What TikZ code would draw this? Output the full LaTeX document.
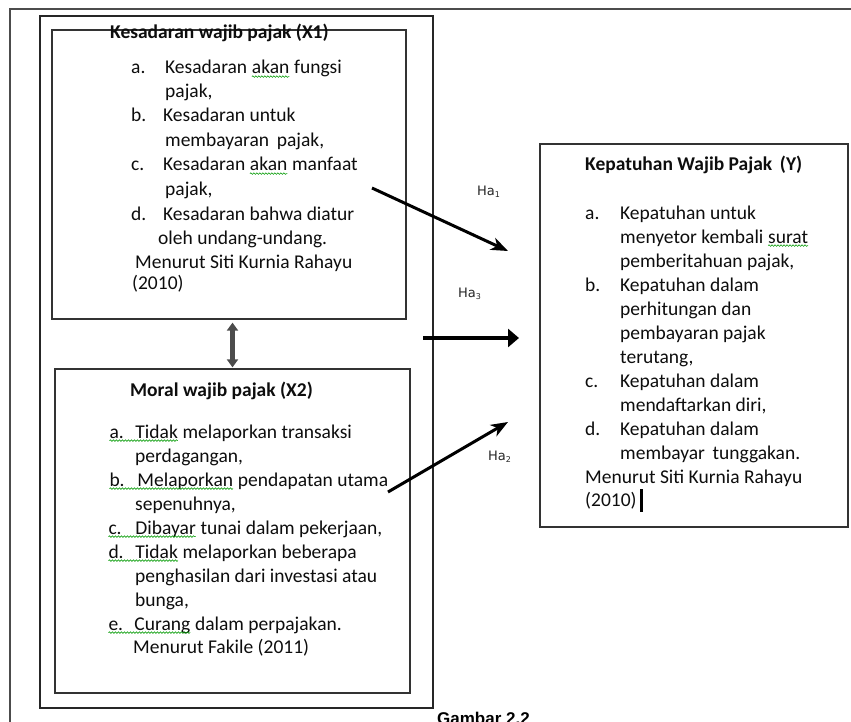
\documentclass[tikz,border=0pt]{standalone}
\usepackage{fontspec}
\setmainfont{Carlito}
\newfontfamily\hafont{DejaVu Sans}
\newfontfamily\capfont{Liberation Sans}
\usetikzlibrary{arrows.meta,decorations.pathmorphing}
\tikzset{
  sqg/.style={draw=green!60!black, line width=0.6pt, decorate,
    decoration={snake,amplitude=0.8pt,segment length=3pt}}
}
\newcommand{\gsq}[1]{\tikz[baseline=(w.base)]{\node[inner sep=0pt,outer sep=0pt,anchor=base,draw=none](w){#1};\draw[sqg] ([yshift=-2.6pt]w.base west) -- ([yshift=-2.6pt]w.base east);}}
\newcommand{\hsub}[1]{\raisebox{-2pt}{\fontsize{8}{8}\selectfont #1}}
\begin{document}
\begin{tikzpicture}[x=1pt,y=-1pt,
  txt/.style={anchor=base west,inner sep=0pt,font=\fontsize{19.5}{24}\selectfont,text=black!95},
  ttl/.style={anchor=base west,inner sep=0pt,font=\fontsize{19.5}{24}\selectfont\bfseries,text=black!95},
  box/.style={draw=black!80,line width=1.3pt,rectangle,inner sep=0pt},
  hlab/.style={anchor=base west,inner sep=0pt,font=\hafont\fontsize{13}{14}\selectfont,text=black!85},
  conn/.style={draw=black,line width=3pt,-{Stealth[length=17pt,width=13pt,inset=5pt]}},
  pagel/.style={draw=black!70,line width=2pt}
]
\useasboundingbox (0,0) rectangle (851,722);
% page edge
\draw[pagel] (10,722) -- (10,9) -- (851,9);
% frame and boxes
\node[box,line width=2.6pt,draw=black!85,minimum width=393pt,minimum height=692pt] (frame) at (236.5,362) {};
\node[box,minimum width=354pt,minimum height=289pt] (x1) at (229,174.5) {};
\node[box,minimum width=355pt,minimum height=324pt] (x2) at (232.5,531) {};
\node[box,minimum width=308pt,minimum height=383pt] (y) at (694,335.5) {};

% X1 text
\node[ttl] (x1t) at (110,39) {Kesadaran wajib pajak (X1)};
\node[txt] (x1a) at (131,74) {\makebox[34pt][l]{a.}Kesadaran \gsq{akan} fungsi};
\node[txt] (x1a2) at (165,98) {pajak,};
\node[txt] (x1b) at (131,122) {\makebox[32pt][l]{b.}Kesadaran untuk};
\node[txt] (x1b2) at (165,147) {membayaran\, pajak,};
\node[txt] (x1c) at (131,171) {\makebox[32pt][l]{c.}Kesadaran \gsq{akan} manfaat};
\node[txt] (x1c2) at (165,196) {pajak,};
\node[txt] (x1d) at (131,220) {\makebox[32pt][l]{d.}Kesadaran bahwa diatur};
\node[txt] (x1d2) at (158,244) {oleh undang-undang.};
\node[txt] (x1m) at (135,268) {Menurut Siti Kurnia Rahayu};
\node[txt] (x1m2) at (132,289) {(2010)};

% X2 text
\node[ttl] (x2t) at (130,396) {Moral wajib pajak (X2)};
\node[txt] (x2a) at (109,438) {\gsq{\makebox[26pt][l]{a.}Tidak} melaporkan transaksi};
\node[txt] (x2a2) at (135,462) {perdagangan,};
\node[txt] (x2b) at (109,486) {\gsq{\makebox[28pt][l]{b.}Melaporkan} pendapatan utama};
\node[txt] (x2b2) at (135,510) {sepenuhnya,};
\node[txt] (x2c) at (108,534) {\gsq{\makebox[27pt][l]{c.}Dibayar} tunai dalam pekerjaan,};
\node[txt] (x2d) at (108,558) {\gsq{\makebox[27pt][l]{d.}Tidak} melaporkan beberapa};
\node[txt] (x2d2) at (135,582) {penghasilan dari investasi atau};
\node[txt] (x2d3) at (135,606) {bunga,};
\node[txt] (x2e) at (108,630) {\gsq{\makebox[26pt][l]{e.}Curang} dalam perpajakan.};
\node[txt] (x2m) at (133,653) {Menurut Fakile (2011)};

% Y text
\node[ttl] (yt) at (585,171) {Kepatuhan Wajib Pajak\, (Y)};
\node[txt] (ya) at (585,219) {\makebox[35pt][l]{a.}Kepatuhan untuk};
\node[txt] (ya2) at (620,243) {menyetor kembali \gsq{surat}};
\node[txt] (ya3) at (620,267) {pemberitahuan pajak,};
\node[txt] (yb) at (585,291) {\makebox[35pt][l]{b.}Kepatuhan dalam};
\node[txt] (yb2) at (620,315) {perhitungan dan};
\node[txt] (yb3) at (620,339) {pembayaran pajak};
\node[txt] (yb4) at (620,363) {terutang,};
\node[txt] (yc) at (585,387) {\makebox[35pt][l]{c.}Kepatuhan dalam};
\node[txt] (yc2) at (620,411) {mendaftarkan diri,};
\node[txt] (yd) at (585,435) {\makebox[35pt][l]{d.}Kepatuhan dalam};
\node[txt] (yd2) at (620,459) {membayar\, tunggakan.};
\node[txt] (ym) at (585,483) {Menurut Siti Kurnia Rahayu};
\node[txt] (ym2) at (585,506) {(2010)};
\fill[black] (640,489) rectangle (642.5,512);

% labels
\node[hlab] (ha1) at (477,196) {Ha\hsub{1}};
\node[hlab] (ha3) at (458,297) {Ha\hsub{3}};
\node[hlab] (ha2) at (488,460) {Ha\hsub{2}};

% connectors
\coordinate (h1s) at (372,188);
\coordinate (h1e) at (508,251);
\coordinate (h3s) at (423,338);
\coordinate (h3e) at (519,338);
\coordinate (h2s) at (388,492);
\coordinate (h2e) at (508,422);
\draw[conn] (h1s) -- (h1e);
\draw[line width=4pt,-{Triangle[length=11pt,width=18pt]}] (h3s) -- (h3e);
\draw[conn] (h2s) -- (h2e);
\draw[line width=4.5pt,draw=black!70,{Triangle[length=8pt,width=11pt]}-{Triangle[length=8pt,width=11pt]},shorten <=3pt,shorten >=1pt] (x1.south -| x2.north) -- (x2.north);

% caption
\node[anchor=base west,inner sep=0pt,font=\capfont\bfseries\fontsize{17}{20}\selectfont] (cap) at (437,724) {Gambar 2.2};
\end{tikzpicture}
\end{document}
